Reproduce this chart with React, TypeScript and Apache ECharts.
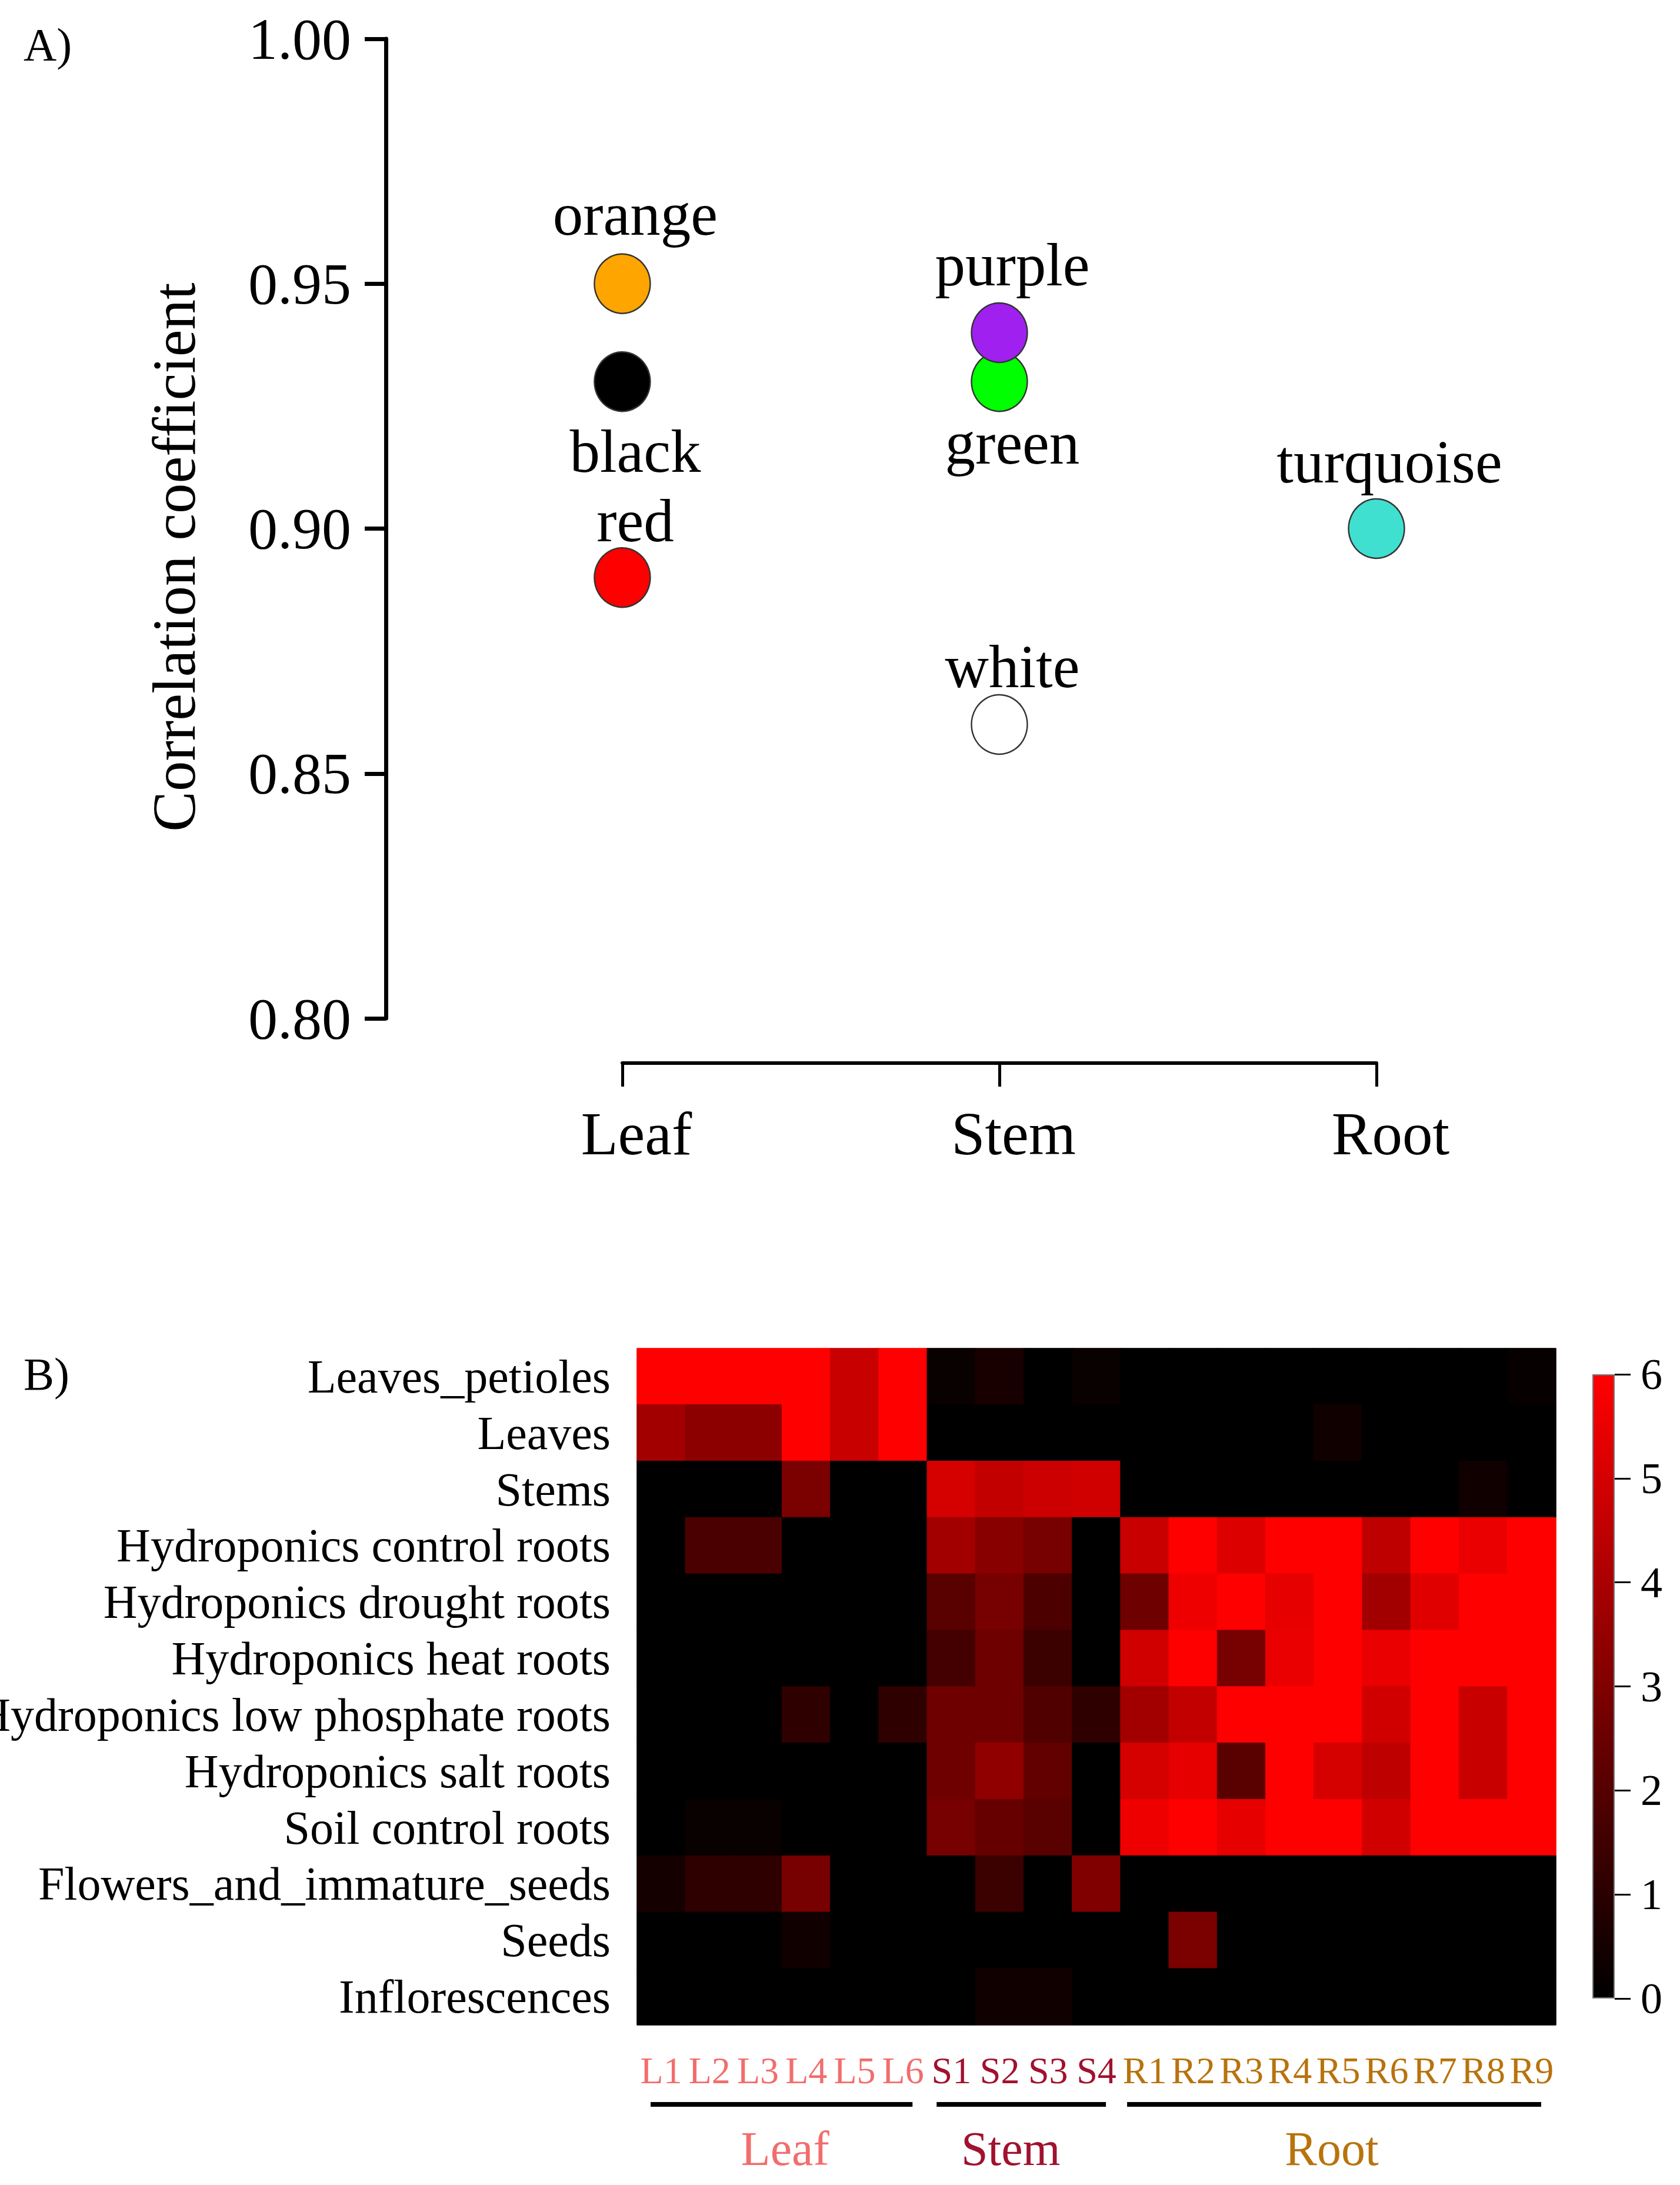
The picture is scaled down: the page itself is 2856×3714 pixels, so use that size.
import React, { useEffect, useRef } from 'react';
import * as echarts from 'echarts';

const FONT = '"Liberation Serif", "Times New Roman", Times, serif';

// ---------- Panel A data ----------
const organs = ['Leaf', 'Stem', 'Root'];
const moduleNames = ['orange', 'black', 'red', 'green', 'purple', 'white', 'turquoise'];
const moduleOrgan = [0, 0, 0, 1, 1, 1, 2];
const moduleCorr = [0.95, 0.93, 0.89, 0.93, 0.94, 0.86, 0.9];
const moduleColors = ['#FFA500', '#000000', '#FF0000', '#00FF00', '#A020F0', '#FFFFFF', '#40E0D0'];
const yTicksA = { min: 0.8, max: 1.0, step: 0.05 };
// label vertical offsets (style)
const labelDy = [-118, 118, -97, 104, -116, -99, -114];

// ---------- Panel B data ----------
const tissues = [
  'Leaves_petioles',
  'Leaves',
  'Stems',
  'Hydroponics control roots',
  'Hydroponics drought roots',
  'Hydroponics heat roots',
  'Hydroponics low phosphate roots',
  'Hydroponics salt roots',
  'Soil control roots',
  'Flowers_and_immature_seeds',
  'Seeds',
  'Inflorescences',
];
const samples = ['L1', 'L2', 'L3', 'L4', 'L5', 'L6', 'S1', 'S2', 'S3', 'S4', 'R1', 'R2', 'R3', 'R4', 'R5', 'R6', 'R7', 'R8', 'R9'];
const groupNames = ['Leaf', 'Stem', 'Root'];
const groupSizes = [6, 4, 9];
const groupColors = ['#F26D6D', '#A0122E', '#B8730D'];

const leavesPetioles = [6, 6, 6, 6, 4.7, 6, 0.2, 0.6, 0, 0.2, 0, 0, 0, 0, 0, 0, 0, 0, 0.15];
const leaves = [3.8, 3.3, 3.3, 6, 4.7, 6, 0, 0, 0, 0, 0, 0, 0, 0, 0.4, 0, 0, 0, 0];
const stems = [0, 0, 0, 2.9, 0, 0, 5.0, 4.6, 4.8, 4.9, 0, 0, 0, 0, 0, 0, 0, 0.4, 0];
const hydroControl = [0, 1.75, 1.75, 0, 0, 0, 3.8, 3.2, 2.8, 0, 4.7, 6, 5.2, 6, 6, 4.5, 6, 5.5, 6];
const hydroDrought = [0, 0, 0, 0, 0, 0, 2.1, 2.8, 1.8, 0, 2.6, 5.6, 6, 5.4, 6, 3.8, 5.3, 6, 6];
const hydroHeat = [0, 0, 0, 0, 0, 0, 1.6, 2.6, 1.4, 0, 4.9, 6, 2.8, 5.5, 6, 5.5, 6, 6, 6];
const hydroLowP = [0, 0, 0, 1.1, 0, 1.1, 2.6, 2.6, 1.9, 1.1, 3.8, 4.6, 6, 6, 6, 4.9, 6, 4.7, 6];
const hydroSalt = [0, 0, 0, 0, 0, 0, 2.6, 3.4, 2.3, 0, 5.0, 5.4, 2.1, 6, 5.0, 4.5, 6, 4.7, 6];
const soilControl = [0, 0.2, 0.2, 0, 0, 0, 2.8, 2.4, 2.1, 0, 5.6, 6, 5.4, 6, 6, 4.9, 6, 6, 6];
const flowersSeeds = [0.5, 1.1, 1.1, 2.8, 0, 0, 0, 1.4, 0, 3.0, 0, 0, 0, 0, 0, 0, 0, 0, 0];
const seeds = [0, 0, 0, 0.4, 0, 0, 0, 0, 0, 0, 0, 2.9, 0, 0, 0, 0, 0, 0, 0];
const inflorescences = [0, 0, 0, 0, 0, 0, 0, 0.4, 0.4, 0, 0, 0, 0, 0, 0, 0, 0, 0, 0];
const heatRows = [
  leavesPetioles, leaves, stems, hydroControl, hydroDrought, hydroHeat,
  hydroLowP, hydroSalt, soilControl, flowersSeeds, seeds, inflorescences,
];
const colorScale = { min: 0, max: 6, step: 1 };

// styles for the bracket annotations (original-pixel insets and label shifts)
const bracketLeftInset = [23, 16, 11];
const bracketRightInset = 25;
const groupLabelDx = [6, -18, -4];

function sampleColor(idx: number) {
  let acc = 0;
  for (let g = 0; g < groupSizes.length; g++) {
    acc += groupSizes[g];
    if (idx < acc) return groupColors[g];
  }
  return '#000';
}

function heatColor(v: number) {
  const t = Math.max(0, Math.min(1, (v - colorScale.min) / (colorScale.max - colorScale.min)));
  const r = Math.round(255 * t);
  return `rgb(${r},0,0)`;
}

export default function App() {
  const ref = useRef<HTMLDivElement>(null);

  useEffect(() => {
    document.body.style.margin = '0';
    const chart = echarts.init(ref.current!, null, { renderer: 'svg' });

    const scatterData = moduleNames.map((n, i) => ({
      name: n,
      value: [moduleOrgan[i], moduleCorr[i]],
      itemStyle: { color: moduleColors[i] },
      label: { offset: [22, labelDy[i]] },
    }));

    const heatData: any[] = [];
    heatRows.forEach((row, r) =>
      row.forEach((v, c) => {
        const col = heatColor(v);
        heatData.push({ value: [c, r, v], itemStyle: { borderColor: col, borderWidth: 1 } });
      })
    );

    const option: any = {
      animation: false,
      backgroundColor: '#ffffff',
      textStyle: { fontFamily: FONT },
      grid: [
        { left: 656, top: 66, width: 1684, height: 1665, containLabel: false, outerBoundsMode: 'none' },
        { left: 1058, top: 1700, width: 1282, height: 107, containLabel: false, outerBoundsMode: 'none' },
        { left: 1083, top: 2292, width: 1562, height: 1150, containLabel: false, outerBoundsMode: 'none' },
        { left: 2707, top: 2336, width: 38, height: 1061, containLabel: false, outerBoundsMode: 'none' },
      ],
      xAxis: [
        { gridIndex: 0, type: 'value', min: -0.627, max: 2, show: false },
        {
          gridIndex: 1, type: 'category', data: organs, boundaryGap: false,
          axisLine: { show: true, lineStyle: { color: '#000', width: 6 } },
          axisTick: { show: true, length: 40, lineStyle: { color: '#000', width: 5 } },
          axisLabel: { fontSize: 103, margin: 68, color: '#000', fontFamily: FONT, interval: 0, padding: [0, 0, 0, 48] },
          splitLine: { show: false },
        },
        {
          gridIndex: 2, type: 'category', data: samples,
          axisLine: { show: false }, axisTick: { show: false }, splitLine: { show: false },
          axisLabel: {
            interval: 0, fontSize: 64, margin: 45, fontFamily: FONT,
            color: (_v: any, i: number) => sampleColor(i),
          },
        },
        { gridIndex: 3, type: 'category', data: [''], show: false },
      ],
      yAxis: [
        {
          gridIndex: 0, type: 'value', min: yTicksA.min, max: yTicksA.max, interval: yTicksA.step,
          axisLine: { show: true, onZero: false, lineStyle: { color: '#000', width: 7 } },
          axisTick: { show: true, length: 36, lineStyle: { color: '#000', width: 7 } },
          axisLabel: { fontSize: 100, margin: 59, color: '#000', fontFamily: FONT, formatter: (v: number) => v.toFixed(2) },
          splitLine: { show: false },
        },
        { gridIndex: 1, type: 'value', show: false },
        {
          gridIndex: 2, type: 'category', data: tissues, inverse: true,
          axisLine: { show: false }, axisTick: { show: false }, splitLine: { show: false },
          axisLabel: { interval: 0, fontSize: 80, margin: 45, color: '#000', fontFamily: FONT },
        },
        {
          gridIndex: 3, type: 'value', position: 'right',
          min: colorScale.min, max: colorScale.max, interval: colorScale.step,
          axisLine: { show: false },
          axisTick: { show: true, length: 27, lineStyle: { color: '#000', width: 3 } },
          axisLabel: { fontSize: 74, margin: 44, color: '#000', fontFamily: FONT },
          splitLine: { show: false },
        },
      ],
      visualMap: {
        show: false, seriesIndex: 1, min: colorScale.min, max: colorScale.max, dimension: 2,
        inRange: { color: [heatColor(colorScale.min), heatColor(colorScale.max)] },
      },
      series: [
        {
          type: 'scatter', xAxisIndex: 0, yAxisIndex: 0, clip: false,
          symbol: 'circle', symbolSize: [95, 101],
          itemStyle: { borderColor: '#333', borderWidth: 2.5, opacity: 1 },
          label: {
            show: true, position: 'inside', formatter: '{b}',
            fontSize: 103, color: '#000', fontFamily: FONT,
          },
          emphasis: { disabled: true },
          data: scatterData,
        },
        {
          type: 'heatmap', xAxisIndex: 2, yAxisIndex: 2,
          emphasis: { disabled: true },
          data: heatData,
        },
        {
          type: 'bar', xAxisIndex: 3, yAxisIndex: 3, barWidth: '100%',
          itemStyle: {
            color: new echarts.graphic.LinearGradient(0, 0, 0, 1, [
              { offset: 0, color: heatColor(colorScale.max) },
              { offset: 1, color: heatColor(colorScale.min) },
            ]),
            borderColor: '#777', borderWidth: 2,
          },
          emphasis: { disabled: true },
          data: [colorScale.max],
        },
      ],
    };

    chart.setOption(option);

    // brackets and group labels under the heatmap, derived from the axis
    const px = (i: number) => chart.convertToPixel({ xAxisIndex: 2 } as any, i as any) as unknown as number;
    const band = px(1) - px(0);
    const graphics: any[] = [
      { type: 'text', left: 40, top: 36, style: { text: 'A)', fontSize: 78, fontFamily: FONT, fill: '#000' } },
      { type: 'text', left: 40, top: 2296, style: { text: 'B)', fontSize: 78, fontFamily: FONT, fill: '#000' } },
      {
        type: 'text', x: 296, y: 947, rotation: Math.PI / 2,
        style: { text: 'Correlation coefficient', fontSize: 103, fontFamily: FONT, fill: '#000', align: 'center', verticalAlign: 'middle' },
      },
    ];
    let start = 0;
    groupNames.forEach((g, gi) => {
      const end = start + groupSizes[gi] - 1;
      const x1 = px(start) - band / 2 + bracketLeftInset[gi];
      const x2 = px(end) + band / 2 - bracketRightInset;
      graphics.push({
        type: 'line', shape: { x1, y1: 3577, x2, y2: 3577 },
        style: { stroke: '#000', lineWidth: 8 },
      });
      graphics.push({
        type: 'text', x: (x1 + x2) / 2 + groupLabelDx[gi], y: 3652,
        style: { text: g, fontSize: 82, fontFamily: FONT, fill: groupColors[gi], align: 'center', verticalAlign: 'middle' },
      });
      start = end + 1;
    });
    chart.setOption({ graphic: graphics });

    return () => chart.dispose();
  }, []);

  return <div ref={ref} style={{ width: 2856, height: 3714, background: '#fff' }} />;
}
